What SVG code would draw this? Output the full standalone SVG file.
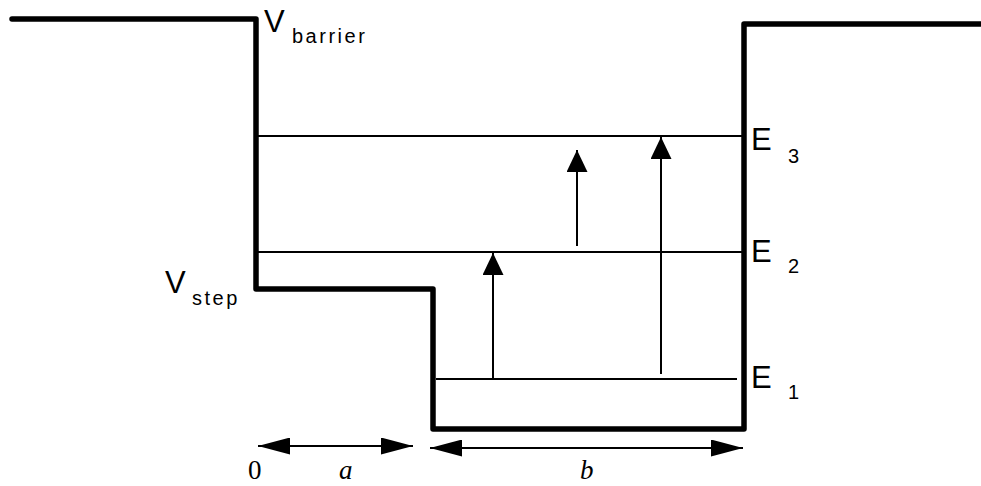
<svg xmlns="http://www.w3.org/2000/svg" width="981" height="486" viewBox="0 0 981 486">
<style>
.thick{fill:none;stroke:#000;stroke-width:5.5;stroke-linejoin:round;stroke-linecap:round}
.thin{fill:none;stroke:#000;stroke-width:2}
.lbl{font-family:"Liberation Sans",Arial,sans-serif;fill:#000}
.big{font-size:31px}
.sub{font-size:20px;letter-spacing:2.5px}
.ser{font-family:"Liberation Serif","Times New Roman",serif;font-size:27px;fill:#000}
</style>
<defs>
<marker id="up" viewBox="0 0 22 21" refX="22" refY="10.5" markerWidth="22" markerHeight="21" markerUnits="userSpaceOnUse" orient="auto">
<polygon points="0,0 22,10.5 0,21"/>
</marker>
<marker id="dim" viewBox="0 0 32 17" refX="32" refY="8.5" markerWidth="32" markerHeight="17" markerUnits="userSpaceOnUse" orient="auto-start-reverse">
<polygon points="0,0 32,8.5 0,17"/>
</marker>
</defs>
<g id="potential">
<path class="thick" d="M12,19 L256,19 L256,289 L433,289 L433,429 L744,429 L744,24 L981,24"/>
</g>
<g id="levels">
<line class="thin" x1="258" y1="136" x2="742" y2="136"/>
<line class="thin" x1="258" y1="252" x2="742" y2="252"/>
<line class="thin" x1="436" y1="379" x2="737" y2="379"/>
</g>
<g id="connectors">
<line class="thin" x1="493" y1="379" x2="493" y2="253" marker-end="url(#up)"/>
<line class="thin" x1="577" y1="246" x2="577" y2="150" marker-end="url(#up)"/>
<line class="thin" x1="661" y1="374" x2="661" y2="137" marker-end="url(#up)"/>
<line class="thin" x1="258" y1="446" x2="413" y2="446" marker-start="url(#dim)" marker-end="url(#dim)"/>
<line class="thin" x1="430" y1="448" x2="743" y2="448" marker-start="url(#dim)" marker-end="url(#dim)"/>
</g>
<g id="label-vbarrier" class="lbl"><text class="big" x="264" y="32">V</text><text class="sub" x="292" y="43">barrier</text></g>
<g id="label-vstep" class="lbl"><text class="big" x="165" y="293">V</text><text class="sub" x="192" y="305">step</text></g>
<g id="label-e3" class="lbl"><text class="big" x="751" y="150">E</text><text class="sub" x="788" y="163">3</text></g>
<g id="label-e2" class="lbl"><text class="big" x="751" y="262">E</text><text class="sub" x="788" y="273">2</text></g>
<g id="label-e1" class="lbl"><text class="big" x="751" y="388">E</text><text class="sub" x="788" y="399">1</text></g>
<g id="label-0"><text class="ser" x="248" y="479">0</text></g>
<g id="label-a"><text class="ser" x="339" y="479" font-style="italic">a</text></g>
<g id="label-b"><text class="ser" x="580" y="479" font-style="italic">b</text></g>
</svg>
